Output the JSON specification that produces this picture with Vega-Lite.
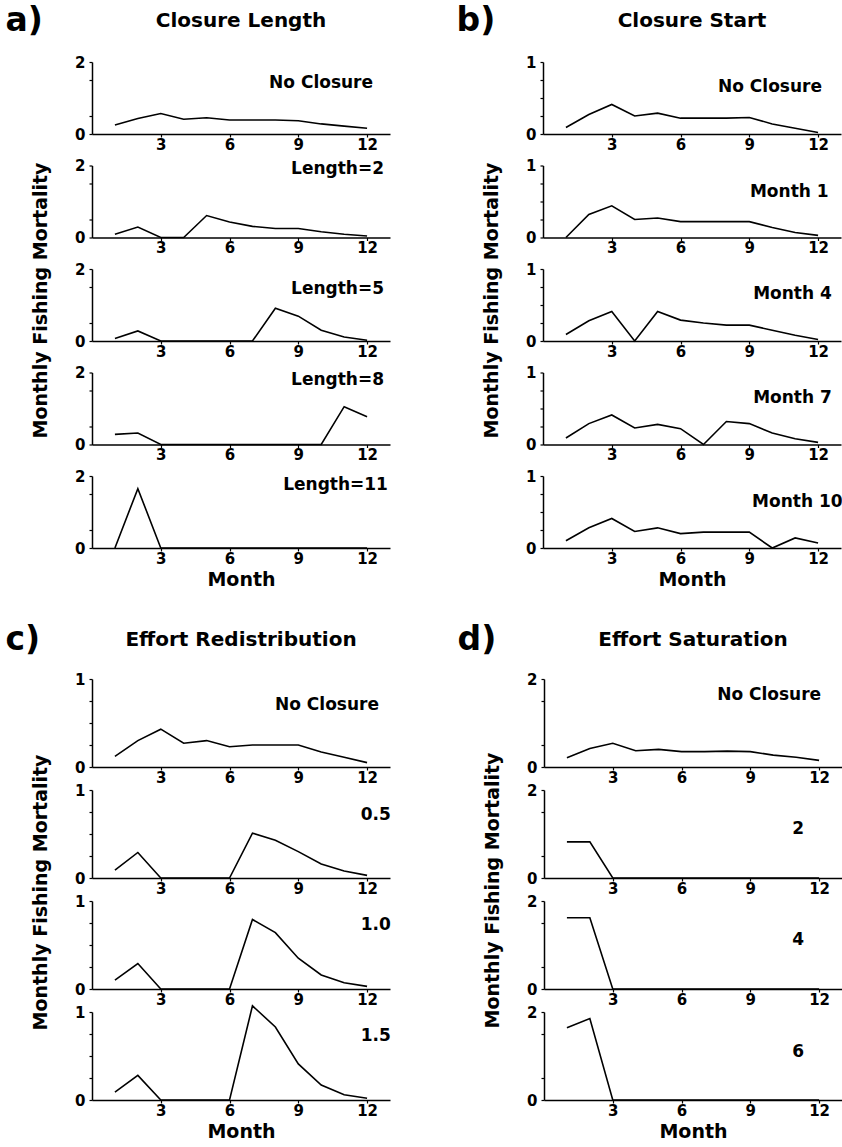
{
  "$schema": "https://vega.github.io/schema/vega-lite/v6.json",
  "padding": {"left": 5, "top": 5, "right": 5, "bottom": 0},
  "background": "white",
  "data": {"values": [
    {"set":"a","scenario":"No Closure","month":1,"F":0.25},{"set":"a","scenario":"No Closure","month":2,"F":0.43},{"set":"a","scenario":"No Closure","month":3,"F":0.57},{"set":"a","scenario":"No Closure","month":4,"F":0.41},{"set":"a","scenario":"No Closure","month":5,"F":0.45},{"set":"a","scenario":"No Closure","month":6,"F":0.39},{"set":"a","scenario":"No Closure","month":7,"F":0.39},{"set":"a","scenario":"No Closure","month":8,"F":0.39},{"set":"a","scenario":"No Closure","month":9,"F":0.37},{"set":"a","scenario":"No Closure","month":10,"F":0.28},{"set":"a","scenario":"No Closure","month":11,"F":0.22},{"set":"a","scenario":"No Closure","month":12,"F":0.16},
    {"set":"a","scenario":"Length=2","month":1,"F":0.09},{"set":"a","scenario":"Length=2","month":2,"F":0.29},{"set":"a","scenario":"Length=2","month":3,"F":0},{"set":"a","scenario":"Length=2","month":4,"F":0},{"set":"a","scenario":"Length=2","month":5,"F":0.61},{"set":"a","scenario":"Length=2","month":6,"F":0.43},{"set":"a","scenario":"Length=2","month":7,"F":0.31},{"set":"a","scenario":"Length=2","month":8,"F":0.25},{"set":"a","scenario":"Length=2","month":9,"F":0.25},{"set":"a","scenario":"Length=2","month":10,"F":0.16},{"set":"a","scenario":"Length=2","month":11,"F":0.09},{"set":"a","scenario":"Length=2","month":12,"F":0.04},
    {"set":"a","scenario":"Length=5","month":1,"F":0.07},{"set":"a","scenario":"Length=5","month":2,"F":0.28},{"set":"a","scenario":"Length=5","month":3,"F":0},{"set":"a","scenario":"Length=5","month":4,"F":0},{"set":"a","scenario":"Length=5","month":5,"F":0},{"set":"a","scenario":"Length=5","month":6,"F":0},{"set":"a","scenario":"Length=5","month":7,"F":0},{"set":"a","scenario":"Length=5","month":8,"F":0.91},{"set":"a","scenario":"Length=5","month":9,"F":0.69},{"set":"a","scenario":"Length=5","month":10,"F":0.30},{"set":"a","scenario":"Length=5","month":11,"F":0.11},{"set":"a","scenario":"Length=5","month":12,"F":0.02},
    {"set":"a","scenario":"Length=8","month":1,"F":0.28},{"set":"a","scenario":"Length=8","month":2,"F":0.32},{"set":"a","scenario":"Length=8","month":3,"F":0},{"set":"a","scenario":"Length=8","month":4,"F":0},{"set":"a","scenario":"Length=8","month":5,"F":0},{"set":"a","scenario":"Length=8","month":6,"F":0},{"set":"a","scenario":"Length=8","month":7,"F":0},{"set":"a","scenario":"Length=8","month":8,"F":0},{"set":"a","scenario":"Length=8","month":9,"F":0},{"set":"a","scenario":"Length=8","month":10,"F":0},{"set":"a","scenario":"Length=8","month":11,"F":1.05},{"set":"a","scenario":"Length=8","month":12,"F":0.77},
    {"set":"a","scenario":"Length=11","month":1,"F":0},{"set":"a","scenario":"Length=11","month":2,"F":1.65},{"set":"a","scenario":"Length=11","month":3,"F":0},{"set":"a","scenario":"Length=11","month":4,"F":0},{"set":"a","scenario":"Length=11","month":5,"F":0},{"set":"a","scenario":"Length=11","month":6,"F":0},{"set":"a","scenario":"Length=11","month":7,"F":0},{"set":"a","scenario":"Length=11","month":8,"F":0},{"set":"a","scenario":"Length=11","month":9,"F":0},{"set":"a","scenario":"Length=11","month":10,"F":0},{"set":"a","scenario":"Length=11","month":11,"F":0},{"set":"a","scenario":"Length=11","month":12,"F":0},
    {"set":"b","scenario":"No Closure","month":1,"F":0.09},{"set":"b","scenario":"No Closure","month":2,"F":0.27},{"set":"b","scenario":"No Closure","month":3,"F":0.41},{"set":"b","scenario":"No Closure","month":4,"F":0.25},{"set":"b","scenario":"No Closure","month":5,"F":0.29},{"set":"b","scenario":"No Closure","month":6,"F":0.22},{"set":"b","scenario":"No Closure","month":7,"F":0.22},{"set":"b","scenario":"No Closure","month":8,"F":0.22},{"set":"b","scenario":"No Closure","month":9,"F":0.23},{"set":"b","scenario":"No Closure","month":10,"F":0.14},{"set":"b","scenario":"No Closure","month":11,"F":0.08},{"set":"b","scenario":"No Closure","month":12,"F":0.02},
    {"set":"b","scenario":"Month 1","month":1,"F":0},{"set":"b","scenario":"Month 1","month":2,"F":0.32},{"set":"b","scenario":"Month 1","month":3,"F":0.44},{"set":"b","scenario":"Month 1","month":4,"F":0.25},{"set":"b","scenario":"Month 1","month":5,"F":0.27},{"set":"b","scenario":"Month 1","month":6,"F":0.22},{"set":"b","scenario":"Month 1","month":7,"F":0.22},{"set":"b","scenario":"Month 1","month":8,"F":0.22},{"set":"b","scenario":"Month 1","month":9,"F":0.22},{"set":"b","scenario":"Month 1","month":10,"F":0.14},{"set":"b","scenario":"Month 1","month":11,"F":0.07},{"set":"b","scenario":"Month 1","month":12,"F":0.03},
    {"set":"b","scenario":"Month 4","month":1,"F":0.09},{"set":"b","scenario":"Month 4","month":2,"F":0.28},{"set":"b","scenario":"Month 4","month":3,"F":0.41},{"set":"b","scenario":"Month 4","month":4,"F":0},{"set":"b","scenario":"Month 4","month":5,"F":0.41},{"set":"b","scenario":"Month 4","month":6,"F":0.29},{"set":"b","scenario":"Month 4","month":7,"F":0.25},{"set":"b","scenario":"Month 4","month":8,"F":0.22},{"set":"b","scenario":"Month 4","month":9,"F":0.22},{"set":"b","scenario":"Month 4","month":10,"F":0.15},{"set":"b","scenario":"Month 4","month":11,"F":0.08},{"set":"b","scenario":"Month 4","month":12,"F":0.02},
    {"set":"b","scenario":"Month 7","month":1,"F":0.09},{"set":"b","scenario":"Month 7","month":2,"F":0.29},{"set":"b","scenario":"Month 7","month":3,"F":0.41},{"set":"b","scenario":"Month 7","month":4,"F":0.23},{"set":"b","scenario":"Month 7","month":5,"F":0.28},{"set":"b","scenario":"Month 7","month":6,"F":0.22},{"set":"b","scenario":"Month 7","month":7,"F":0},{"set":"b","scenario":"Month 7","month":8,"F":0.32},{"set":"b","scenario":"Month 7","month":9,"F":0.29},{"set":"b","scenario":"Month 7","month":10,"F":0.16},{"set":"b","scenario":"Month 7","month":11,"F":0.08},{"set":"b","scenario":"Month 7","month":12,"F":0.03},
    {"set":"b","scenario":"Month 10","month":1,"F":0.10},{"set":"b","scenario":"Month 10","month":2,"F":0.28},{"set":"b","scenario":"Month 10","month":3,"F":0.41},{"set":"b","scenario":"Month 10","month":4,"F":0.23},{"set":"b","scenario":"Month 10","month":5,"F":0.28},{"set":"b","scenario":"Month 10","month":6,"F":0.20},{"set":"b","scenario":"Month 10","month":7,"F":0.22},{"set":"b","scenario":"Month 10","month":8,"F":0.22},{"set":"b","scenario":"Month 10","month":9,"F":0.22},{"set":"b","scenario":"Month 10","month":10,"F":0},{"set":"b","scenario":"Month 10","month":11,"F":0.14},{"set":"b","scenario":"Month 10","month":12,"F":0.07},
    {"set":"c","scenario":"No Closure","month":1,"F":0.12},{"set":"c","scenario":"No Closure","month":2,"F":0.30},{"set":"c","scenario":"No Closure","month":3,"F":0.43},{"set":"c","scenario":"No Closure","month":4,"F":0.27},{"set":"c","scenario":"No Closure","month":5,"F":0.30},{"set":"c","scenario":"No Closure","month":6,"F":0.23},{"set":"c","scenario":"No Closure","month":7,"F":0.25},{"set":"c","scenario":"No Closure","month":8,"F":0.25},{"set":"c","scenario":"No Closure","month":9,"F":0.25},{"set":"c","scenario":"No Closure","month":10,"F":0.17},{"set":"c","scenario":"No Closure","month":11,"F":0.11},{"set":"c","scenario":"No Closure","month":12,"F":0.05},
    {"set":"c","scenario":"0.5","month":1,"F":0.09},{"set":"c","scenario":"0.5","month":2,"F":0.29},{"set":"c","scenario":"0.5","month":3,"F":0},{"set":"c","scenario":"0.5","month":4,"F":0},{"set":"c","scenario":"0.5","month":5,"F":0},{"set":"c","scenario":"0.5","month":6,"F":0},{"set":"c","scenario":"0.5","month":7,"F":0.51},{"set":"c","scenario":"0.5","month":8,"F":0.43},{"set":"c","scenario":"0.5","month":9,"F":0.30},{"set":"c","scenario":"0.5","month":10,"F":0.16},{"set":"c","scenario":"0.5","month":11,"F":0.08},{"set":"c","scenario":"0.5","month":12,"F":0.03},
    {"set":"c","scenario":"1.0","month":1,"F":0.10},{"set":"c","scenario":"1.0","month":2,"F":0.29},{"set":"c","scenario":"1.0","month":3,"F":0},{"set":"c","scenario":"1.0","month":4,"F":0},{"set":"c","scenario":"1.0","month":5,"F":0},{"set":"c","scenario":"1.0","month":6,"F":0},{"set":"c","scenario":"1.0","month":7,"F":0.79},{"set":"c","scenario":"1.0","month":8,"F":0.64},{"set":"c","scenario":"1.0","month":9,"F":0.35},{"set":"c","scenario":"1.0","month":10,"F":0.16},{"set":"c","scenario":"1.0","month":11,"F":0.07},{"set":"c","scenario":"1.0","month":12,"F":0.03},
    {"set":"c","scenario":"1.5","month":1,"F":0.09},{"set":"c","scenario":"1.5","month":2,"F":0.28},{"set":"c","scenario":"1.5","month":3,"F":0},{"set":"c","scenario":"1.5","month":4,"F":0},{"set":"c","scenario":"1.5","month":5,"F":0},{"set":"c","scenario":"1.5","month":6,"F":0},{"set":"c","scenario":"1.5","month":7,"F":1.07},{"set":"c","scenario":"1.5","month":8,"F":0.83},{"set":"c","scenario":"1.5","month":9,"F":0.41},{"set":"c","scenario":"1.5","month":10,"F":0.17},{"set":"c","scenario":"1.5","month":11,"F":0.06},{"set":"c","scenario":"1.5","month":12,"F":0.02},
    {"set":"d","scenario":"No Closure","month":1,"F":0.21},{"set":"d","scenario":"No Closure","month":2,"F":0.42},{"set":"d","scenario":"No Closure","month":3,"F":0.54},{"set":"d","scenario":"No Closure","month":4,"F":0.37},{"set":"d","scenario":"No Closure","month":5,"F":0.40},{"set":"d","scenario":"No Closure","month":6,"F":0.35},{"set":"d","scenario":"No Closure","month":7,"F":0.35},{"set":"d","scenario":"No Closure","month":8,"F":0.36},{"set":"d","scenario":"No Closure","month":9,"F":0.35},{"set":"d","scenario":"No Closure","month":10,"F":0.27},{"set":"d","scenario":"No Closure","month":11,"F":0.22},{"set":"d","scenario":"No Closure","month":12,"F":0.15},
    {"set":"d","scenario":"2","month":1,"F":0.82},{"set":"d","scenario":"2","month":2,"F":0.82},{"set":"d","scenario":"2","month":3,"F":0},{"set":"d","scenario":"2","month":4,"F":0},{"set":"d","scenario":"2","month":5,"F":0},{"set":"d","scenario":"2","month":6,"F":0},{"set":"d","scenario":"2","month":7,"F":0},{"set":"d","scenario":"2","month":8,"F":0},{"set":"d","scenario":"2","month":9,"F":0},{"set":"d","scenario":"2","month":10,"F":0},{"set":"d","scenario":"2","month":11,"F":0},{"set":"d","scenario":"2","month":12,"F":0},
    {"set":"d","scenario":"4","month":1,"F":1.62},{"set":"d","scenario":"4","month":2,"F":1.62},{"set":"d","scenario":"4","month":3,"F":0},{"set":"d","scenario":"4","month":4,"F":0},{"set":"d","scenario":"4","month":5,"F":0},{"set":"d","scenario":"4","month":6,"F":0},{"set":"d","scenario":"4","month":7,"F":0},{"set":"d","scenario":"4","month":8,"F":0},{"set":"d","scenario":"4","month":9,"F":0},{"set":"d","scenario":"4","month":10,"F":0},{"set":"d","scenario":"4","month":11,"F":0},{"set":"d","scenario":"4","month":12,"F":0},
    {"set":"d","scenario":"6","month":1,"F":1.64},{"set":"d","scenario":"6","month":2,"F":1.85},{"set":"d","scenario":"6","month":3,"F":0},{"set":"d","scenario":"6","month":4,"F":0},{"set":"d","scenario":"6","month":5,"F":0},{"set":"d","scenario":"6","month":6,"F":0},{"set":"d","scenario":"6","month":7,"F":0},{"set":"d","scenario":"6","month":8,"F":0},{"set":"d","scenario":"6","month":9,"F":0},{"set":"d","scenario":"6","month":10,"F":0},{"set":"d","scenario":"6","month":11,"F":0},{"set":"d","scenario":"6","month":12,"F":0}
  ]},
  "spacing": 35,
  "vconcat": [
    {"hconcat": [
      {"title": {"text": "a)", "anchor": "start", "frame": "bounds", "fontSize": 33, "dx": -26, "dy": 53, "offset": 0, "baseline": "alphabetic"},
       "bounds": "flush", "spacing": 31.5,
       "vconcat": [
        {"width": 298, "height": 72, "title": {"text": "Closure Length", "fontSize": 20, "offset": 8, "baseline": "alphabetic"},
         "transform": [{"filter": "datum.set == 'a' && datum.scenario == 'No Closure'"}],
         "resolve": {"scale": {"y": "independent"}},
         "layer": [
          {"mark": "line", "encoding": {
            "x": {"field": "month", "type": "quantitative", "scale": {"domain": [0, 13]}, "axis": {"values": [3,6,9,12], "title": null}},
            "y": {"field": "F", "type": "quantitative", "scale": {"domain": [0, 2]}, "axis": {"values": [0,1,2], "format": "d", "title": null}}}},
          {"transform": [{"filter": "datum.month == 12"}], "mark": "text", "encoding": {"x": {"datum": 12.26}, "y": {"datum": 1.42, "scale": {"domain": [0, 2]}, "axis": {"orient": "left", "values": [0.5,1.5], "labels": false, "domain": false, "title": null}}, "text": {"field": "scenario"}}}
         ]},
        {"width": 298, "height": 72,
         "transform": [{"filter": "datum.set == 'a' && datum.scenario == 'Length=2'"}],
         "resolve": {"scale": {"y": "independent"}},
         "layer": [
          {"mark": "line", "encoding": {
            "x": {"field": "month", "type": "quantitative", "scale": {"domain": [0, 13]}, "axis": {"values": [3,6,9,12], "title": null}},
            "y": {"field": "F", "type": "quantitative", "scale": {"domain": [0, 2]}, "axis": {"values": [0,1,2], "format": "d", "title": null}}}},
          {"transform": [{"filter": "datum.month == 12"}], "mark": "text", "encoding": {"x": {"datum": 12.74}, "y": {"datum": 1.89, "scale": {"domain": [0, 2]}, "axis": {"orient": "left", "values": [0.5,1.5], "labels": false, "domain": false, "title": null}}, "text": {"field": "scenario"}}}
         ]},
        {"width": 298, "height": 72,
         "transform": [{"filter": "datum.set == 'a' && datum.scenario == 'Length=5'"}],
         "resolve": {"scale": {"y": "independent"}},
         "layer": [
          {"mark": "line", "encoding": {
            "x": {"field": "month", "type": "quantitative", "scale": {"domain": [0, 13]}, "axis": {"values": [3,6,9,12], "title": null}},
            "y": {"field": "F", "type": "quantitative", "scale": {"domain": [0, 2]}, "axis": {"values": [0,1,2], "format": "d", "title": "Monthly Fishing Mortality", "titleY": 31, "titlePadding": 24}}}},
          {"transform": [{"filter": "datum.month == 12"}], "mark": "text", "encoding": {"x": {"datum": 12.74}, "y": {"datum": 1.44, "scale": {"domain": [0, 2]}, "axis": {"orient": "left", "values": [0.5,1.5], "labels": false, "domain": false, "title": null}}, "text": {"field": "scenario"}}}
         ]},
        {"width": 298, "height": 72,
         "transform": [{"filter": "datum.set == 'a' && datum.scenario == 'Length=8'"}],
         "resolve": {"scale": {"y": "independent"}},
         "layer": [
          {"mark": "line", "encoding": {
            "x": {"field": "month", "type": "quantitative", "scale": {"domain": [0, 13]}, "axis": {"values": [3,6,9,12], "title": null}},
            "y": {"field": "F", "type": "quantitative", "scale": {"domain": [0, 2]}, "axis": {"values": [0,1,2], "format": "d", "title": null}}}},
          {"transform": [{"filter": "datum.month == 12"}], "mark": "text", "encoding": {"x": {"datum": 12.74}, "y": {"datum": 1.79, "scale": {"domain": [0, 2]}, "axis": {"orient": "left", "values": [0.5,1.5], "labels": false, "domain": false, "title": null}}, "text": {"field": "scenario"}}}
         ]},
        {"width": 298, "height": 72,
         "transform": [{"filter": "datum.set == 'a' && datum.scenario == 'Length=11'"}],
         "resolve": {"scale": {"y": "independent"}},
         "layer": [
          {"mark": "line", "encoding": {
            "x": {"field": "month", "type": "quantitative", "scale": {"domain": [0, 13]}, "axis": {"values": [3,6,9,12], "title": "Month", "titlePadding": 4}},
            "y": {"field": "F", "type": "quantitative", "scale": {"domain": [0, 2]}, "axis": {"values": [0,1,2], "format": "d", "title": null}}}},
          {"transform": [{"filter": "datum.month == 12"}], "mark": "text", "encoding": {"x": {"datum": 12.91}, "y": {"datum": 1.75, "scale": {"domain": [0, 2]}, "axis": {"orient": "left", "values": [0.5,1.5], "labels": false, "domain": false, "title": null}}, "text": {"field": "scenario"}}}
         ]}
       ]},
      {"title": {"text": "b)", "anchor": "start", "frame": "bounds", "fontSize": 33, "dx": -26, "dy": 53, "offset": 0, "baseline": "alphabetic"},
       "bounds": "flush", "spacing": 31.5,
       "vconcat": [
        {"width": 298, "height": 72, "title": {"text": "Closure Start", "fontSize": 20, "offset": 8, "baseline": "alphabetic"},
         "transform": [{"filter": "datum.set == 'b' && datum.scenario == 'No Closure'"}],
         "resolve": {"scale": {"y": "independent"}},
         "layer": [
          {"mark": "line", "encoding": {
            "x": {"field": "month", "type": "quantitative", "scale": {"domain": [0, 13]}, "axis": {"values": [3,6,9,12], "title": null}},
            "y": {"field": "F", "type": "quantitative", "scale": {"domain": [0, 1]}, "axis": {"values": [0,1], "format": "d", "title": null}}}},
          {"transform": [{"filter": "datum.month == 12"}], "mark": "text", "encoding": {"x": {"datum": 12.17}, "y": {"datum": 0.65, "scale": {"domain": [0, 1]}, "axis": {"orient": "left", "values": [0.25,0.5,0.75], "labels": false, "domain": false, "title": null}}, "text": {"field": "scenario"}}}
         ]},
        {"width": 298, "height": 72,
         "transform": [{"filter": "datum.set == 'b' && datum.scenario == 'Month 1'"}],
         "resolve": {"scale": {"y": "independent"}},
         "layer": [
          {"mark": "line", "encoding": {
            "x": {"field": "month", "type": "quantitative", "scale": {"domain": [0, 13]}, "axis": {"values": [3,6,9,12], "title": null}},
            "y": {"field": "F", "type": "quantitative", "scale": {"domain": [0, 1]}, "axis": {"values": [0,1], "format": "d", "title": null}}}},
          {"transform": [{"filter": "datum.month == 12"}], "mark": "text", "encoding": {"x": {"datum": 12.46}, "y": {"datum": 0.63, "scale": {"domain": [0, 1]}, "axis": {"orient": "left", "values": [0.25,0.5,0.75], "labels": false, "domain": false, "title": null}}, "text": {"field": "scenario"}}}
         ]},
        {"width": 298, "height": 72,
         "transform": [{"filter": "datum.set == 'b' && datum.scenario == 'Month 4'"}],
         "resolve": {"scale": {"y": "independent"}},
         "layer": [
          {"mark": "line", "encoding": {
            "x": {"field": "month", "type": "quantitative", "scale": {"domain": [0, 13]}, "axis": {"values": [3,6,9,12], "title": null}},
            "y": {"field": "F", "type": "quantitative", "scale": {"domain": [0, 1]}, "axis": {"values": [0,1], "format": "d", "title": "Monthly Fishing Mortality", "titleY": 31, "titlePadding": 24}}}},
          {"transform": [{"filter": "datum.month == 12"}], "mark": "text", "encoding": {"x": {"datum": 12.6}, "y": {"datum": 0.65, "scale": {"domain": [0, 1]}, "axis": {"orient": "left", "values": [0.25,0.5,0.75], "labels": false, "domain": false, "title": null}}, "text": {"field": "scenario"}}}
         ]},
        {"width": 298, "height": 72,
         "transform": [{"filter": "datum.set == 'b' && datum.scenario == 'Month 7'"}],
         "resolve": {"scale": {"y": "independent"}},
         "layer": [
          {"mark": "line", "encoding": {
            "x": {"field": "month", "type": "quantitative", "scale": {"domain": [0, 13]}, "axis": {"values": [3,6,9,12], "title": null}},
            "y": {"field": "F", "type": "quantitative", "scale": {"domain": [0, 1]}, "axis": {"values": [0,1], "format": "d", "title": null}}}},
          {"transform": [{"filter": "datum.month == 12"}], "mark": "text", "encoding": {"x": {"datum": 12.6}, "y": {"datum": 0.65, "scale": {"domain": [0, 1]}, "axis": {"orient": "left", "values": [0.25,0.5,0.75], "labels": false, "domain": false, "title": null}}, "text": {"field": "scenario"}}}
         ]},
        {"width": 298, "height": 72,
         "transform": [{"filter": "datum.set == 'b' && datum.scenario == 'Month 10'"}],
         "resolve": {"scale": {"y": "independent"}},
         "layer": [
          {"mark": "line", "encoding": {
            "x": {"field": "month", "type": "quantitative", "scale": {"domain": [0, 13]}, "axis": {"values": [3,6,9,12], "title": "Month", "titlePadding": 4}},
            "y": {"field": "F", "type": "quantitative", "scale": {"domain": [0, 1]}, "axis": {"values": [0,1], "format": "d", "title": null}}}},
          {"transform": [{"filter": "datum.month == 12"}], "mark": "text", "encoding": {"x": {"datum": 13.07}, "y": {"datum": 0.64, "scale": {"domain": [0, 1]}, "axis": {"orient": "left", "values": [0.25,0.5,0.75], "labels": false, "domain": false, "title": null}}, "text": {"field": "scenario"}}}
         ]}
       ]}
    ], "spacing": 66},
    {"hconcat": [
      {"title": {"text": "c)", "anchor": "start", "frame": "bounds", "fontSize": 33, "dx": -26, "dy": 53, "offset": 0, "baseline": "alphabetic"},
       "bounds": "flush", "spacing": 23,
       "vconcat": [
        {"width": 298, "height": 88, "title": {"text": "Effort Redistribution", "fontSize": 20, "offset": 6, "baseline": "alphabetic"},
         "transform": [{"filter": "datum.set == 'c' && datum.scenario == 'No Closure'"}],
         "resolve": {"scale": {"y": "independent"}},
         "layer": [
          {"mark": "line", "encoding": {
            "x": {"field": "month", "type": "quantitative", "scale": {"domain": [0, 13]}, "axis": {"values": [3,6,9,12], "title": null}},
            "y": {"field": "F", "type": "quantitative", "scale": {"domain": [0, 1]}, "axis": {"values": [0,1], "format": "d", "title": null}}}},
          {"transform": [{"filter": "datum.month == 12"}], "mark": "text", "encoding": {"x": {"datum": 12.52}, "y": {"datum": 0.70, "scale": {"domain": [0, 1]}, "axis": {"orient": "left", "values": [0.25,0.5,0.75], "labels": false, "domain": false, "title": null}}, "text": {"field": "scenario"}}}
         ]},
        {"width": 298, "height": 88,
         "transform": [{"filter": "datum.set == 'c' && datum.scenario == '0.5'"}],
         "resolve": {"scale": {"y": "independent"}},
         "layer": [
          {"mark": "line", "encoding": {
            "x": {"field": "month", "type": "quantitative", "scale": {"domain": [0, 13]}, "axis": {"values": [3,6,9,12], "title": null}},
            "y": {"field": "F", "type": "quantitative", "scale": {"domain": [0, 1]}, "axis": {"values": [0,1], "format": "d", "title": "Monthly Fishing Mortality", "titleY": 102, "titlePadding": 24}}}},
          {"transform": [{"filter": "datum.month == 12"}], "mark": "text", "encoding": {"x": {"datum": 13.04}, "y": {"datum": 0.72, "scale": {"domain": [0, 1]}, "axis": {"orient": "left", "values": [0.25,0.5,0.75], "labels": false, "domain": false, "title": null}}, "text": {"field": "scenario"}}}
         ]},
        {"width": 298, "height": 88,
         "transform": [{"filter": "datum.set == 'c' && datum.scenario == '1.0'"}],
         "resolve": {"scale": {"y": "independent"}},
         "layer": [
          {"mark": "line", "encoding": {
            "x": {"field": "month", "type": "quantitative", "scale": {"domain": [0, 13]}, "axis": {"values": [3,6,9,12], "title": null}},
            "y": {"field": "F", "type": "quantitative", "scale": {"domain": [0, 1]}, "axis": {"values": [0,1], "format": "d", "title": null}}}},
          {"transform": [{"filter": "datum.month == 12"}], "mark": "text", "encoding": {"x": {"datum": 13.04}, "y": {"datum": 0.73, "scale": {"domain": [0, 1]}, "axis": {"orient": "left", "values": [0.25,0.5,0.75], "labels": false, "domain": false, "title": null}}, "text": {"field": "scenario"}}}
         ]},
        {"width": 298, "height": 88,
         "transform": [{"filter": "datum.set == 'c' && datum.scenario == '1.5'"}],
         "resolve": {"scale": {"y": "independent"}},
         "layer": [
          {"mark": "line", "encoding": {
            "x": {"field": "month", "type": "quantitative", "scale": {"domain": [0, 13]}, "axis": {"values": [3,6,9,12], "title": "Month", "titlePadding": 4}},
            "y": {"field": "F", "type": "quantitative", "scale": {"domain": [0, 1]}, "axis": {"values": [0,1], "format": "d", "title": null}}}},
          {"transform": [{"filter": "datum.month == 12"}], "mark": "text", "encoding": {"x": {"datum": 13.04}, "y": {"datum": 0.73, "scale": {"domain": [0, 1]}, "axis": {"orient": "left", "values": [0.25,0.5,0.75], "labels": false, "domain": false, "title": null}}, "text": {"field": "scenario"}}}
         ]}
       ]},
      {"title": {"text": "d)", "anchor": "start", "frame": "bounds", "fontSize": 33, "dx": -26, "dy": 53, "offset": 0, "baseline": "alphabetic"},
       "bounds": "flush", "spacing": 23,
       "vconcat": [
        {"width": 298, "height": 88, "title": {"text": "Effort Saturation", "fontSize": 20, "offset": 6, "baseline": "alphabetic"},
         "transform": [{"filter": "datum.set == 'd' && datum.scenario == 'No Closure'"}],
         "resolve": {"scale": {"y": "independent"}},
         "layer": [
          {"mark": "line", "encoding": {
            "x": {"field": "month", "type": "quantitative", "scale": {"domain": [0, 13]}, "axis": {"values": [3,6,9,12], "title": null}},
            "y": {"field": "F", "type": "quantitative", "scale": {"domain": [0, 2]}, "axis": {"values": [0,1,2], "format": "d", "title": null}}}},
          {"transform": [{"filter": "datum.month == 12"}], "mark": "text", "encoding": {"x": {"datum": 12.09}, "y": {"datum": 1.63, "scale": {"domain": [0, 2]}, "axis": {"orient": "left", "values": [0.5,1.5], "labels": false, "domain": false, "title": null}}, "text": {"field": "scenario"}}}
         ]},
        {"width": 298, "height": 88,
         "transform": [{"filter": "datum.set == 'd' && datum.scenario == '2'"}],
         "resolve": {"scale": {"y": "independent"}},
         "layer": [
          {"mark": "line", "encoding": {
            "x": {"field": "month", "type": "quantitative", "scale": {"domain": [0, 13]}, "axis": {"values": [3,6,9,12], "title": null}},
            "y": {"field": "F", "type": "quantitative", "scale": {"domain": [0, 2]}, "axis": {"values": [0,1,2], "format": "d", "title": "Monthly Fishing Mortality", "titleY": 100, "titlePadding": 24}}}},
          {"transform": [{"filter": "datum.month == 12"}], "mark": "text", "encoding": {"x": {"datum": 11.35}, "y": {"datum": 1.11, "scale": {"domain": [0, 2]}, "axis": {"orient": "left", "values": [0.5,1.5], "labels": false, "domain": false, "title": null}}, "text": {"field": "scenario"}}}
         ]},
        {"width": 298, "height": 88,
         "transform": [{"filter": "datum.set == 'd' && datum.scenario == '4'"}],
         "resolve": {"scale": {"y": "independent"}},
         "layer": [
          {"mark": "line", "encoding": {
            "x": {"field": "month", "type": "quantitative", "scale": {"domain": [0, 13]}, "axis": {"values": [3,6,9,12], "title": null}},
            "y": {"field": "F", "type": "quantitative", "scale": {"domain": [0, 2]}, "axis": {"values": [0,1,2], "format": "d", "title": null}}}},
          {"transform": [{"filter": "datum.month == 12"}], "mark": "text", "encoding": {"x": {"datum": 11.35}, "y": {"datum": 1.12, "scale": {"domain": [0, 2]}, "axis": {"orient": "left", "values": [0.5,1.5], "labels": false, "domain": false, "title": null}}, "text": {"field": "scenario"}}}
         ]},
        {"width": 298, "height": 88,
         "transform": [{"filter": "datum.set == 'd' && datum.scenario == '6'"}],
         "resolve": {"scale": {"y": "independent"}},
         "layer": [
          {"mark": "line", "encoding": {
            "x": {"field": "month", "type": "quantitative", "scale": {"domain": [0, 13]}, "axis": {"values": [3,6,9,12], "title": "Month", "titlePadding": 4}},
            "y": {"field": "F", "type": "quantitative", "scale": {"domain": [0, 2]}, "axis": {"values": [0,1,2], "format": "d", "title": null}}}},
          {"transform": [{"filter": "datum.month == 12"}], "mark": "text", "encoding": {"x": {"datum": 11.35}, "y": {"datum": 1.10, "scale": {"domain": [0, 2]}, "axis": {"orient": "left", "values": [0.5,1.5], "labels": false, "domain": false, "title": null}}, "text": {"field": "scenario"}}}
         ]}
       ]}
    ], "spacing": 66}
  ],
  "config": {
    "view": {"stroke": null},
    "font": "DejaVu Sans",
    "line": {"color": "black", "strokeWidth": 1.6},
    "text": {"align": "right", "baseline": "middle", "fontSize": 17, "fontWeight": "bold", "font": "DejaVu Sans", "color": "black"},
    "title": {"font": "DejaVu Sans", "fontWeight": "bold", "color": "black"},
    "axis": {"grid": false, "domainColor": "black", "domainWidth": 1.5, "tickColor": "black", "tickWidth": 1.2, "tickSize": 3,
             "labelColor": "black", "labelFont": "DejaVu Sans", "labelFontWeight": "bold", "labelFontSize": 15, "labelFlush": false, "labelOverlap": false,
             "titleColor": "black", "titleFont": "DejaVu Sans", "titleFontWeight": "bold", "titleFontSize": 19},
    "axisX": {"labelPadding": 0},
    "axisY": {"labelPadding": 4}
  }
}
